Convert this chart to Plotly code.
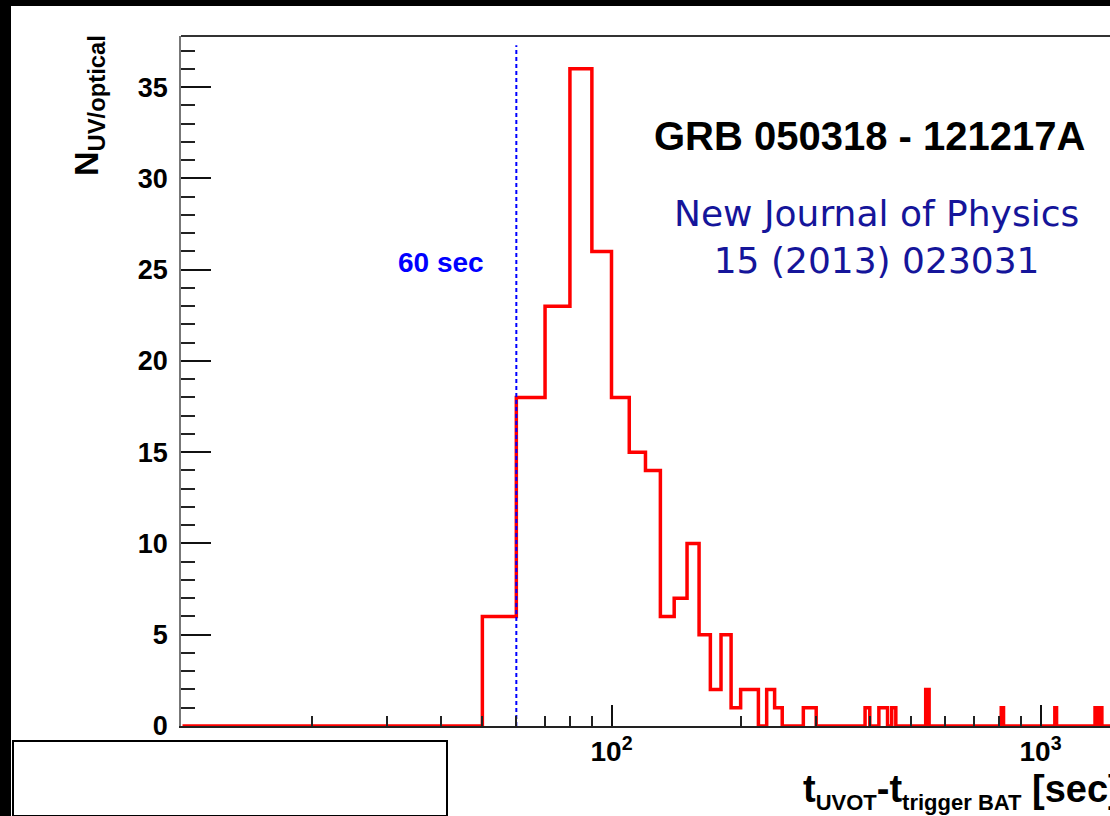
import numpy as np
import plotly.graph_objects as go

# ---- data: UV/optical detection delays, 10 s bins (left edge -> entries) ----
BIN_WIDTH = 10
HIST_START, HIST_STOP = 10, 1500
bin_start = [50, 60, 70, 80, 90, 100, 110, 120, 130, 140, 150, 160, 170, 180,
             190, 200, 210, 230, 240, 280, 290, 390, 420, 430, 450, 540, 810,
             1080, 1340, 1360, 1380]
counts = [6, 18, 23, 36, 26, 18, 15, 14, 6, 7, 10, 5, 2, 5,
          1, 2, 2, 2, 1, 1, 1, 1, 1, 1, 1, 2, 1,
          1, 1, 1, 1]
cut_time = 60            # vertical marker [sec]
cut_label = "60 sec"
x_tick_vals = [100, 1000]
x_tick_text = ["10<sup>2</sup>", "10<sup>3</sup>"]
y_tick_vals = [0, 5, 10, 15, 20, 25, 30, 35]

# full histogram contents
edges = np.arange(HIST_START, HIST_STOP + BIN_WIDTH, BIN_WIDTH)
content = np.zeros(len(edges) - 1)
for s, c in zip(bin_start, counts):
    content[(s - HIST_START) // BIN_WIDTH] = c
step_y = np.append(content, content[-1])

# ---- page geometry (pixels) ----
W, H = 1110, 816
L, R, T, B = 181, 0, 36, 90
PW, PH = W - L - R, H - T - B


def px_x(px):
    return (px - L) / PW


def px_y(py):
    return (H - B - py) / PH


FONT = "Liberation Sans, Arial, Helvetica, sans-serif"

fig = go.Figure()

fig.add_trace(go.Scatter(
    x=edges, y=step_y, mode="lines", line_shape="hv",
    line=dict(color="#ff0000", width=3.5), hoverinfo="skip", showlegend=False))

fig.add_trace(go.Scatter(
    x=[cut_time, cut_time], y=[0, 37.3], mode="lines",
    line=dict(color="#0000ff", width=2, dash="4px,3px"),
    hoverinfo="skip", showlegend=False))

fig.update_layout(
    width=W, height=H,
    margin=dict(l=L, r=R, t=T, b=B, pad=0),
    paper_bgcolor="white", plot_bgcolor="white",
    font=dict(family=FONT, color="black"),
    showlegend=False,
)

fig.update_xaxes(
    type="log", range=[0.9965, 3.162],
    showgrid=False, zeroline=False,
    showline=True, linecolor="#222", linewidth=1.5, mirror=False,
    tickmode="array", tickvals=x_tick_vals, ticktext=x_tick_text,
    ticks="inside", ticklen=21, tickwidth=1.5, tickcolor="#111",
    tickfont=dict(family=FONT, size=28, weight="bold", color="black"),
    minor=dict(ticks="inside", ticklen=10, tickwidth=1.5, tickcolor="#222",
               tickmode="array",
               tickvals=[m * 10 ** d for d in (1, 2, 3) for m in range(2, 10)]),
)

fig.update_yaxes(
    range=[0, 37.8],
    showgrid=False, zeroline=False,
    showline=True, linecolor="#777", linewidth=1.5, mirror=False,
    tickmode="array", tickvals=y_tick_vals,
    ticks="inside", ticklen=30, tickwidth=1.5, tickcolor="#111",
    ticklabelstandoff=6,
    tickfont=dict(family=FONT, size=27, weight="bold", color="black"),
    minor=dict(ticks="inside", ticklen=14, tickwidth=1.5, tickcolor="#222",
               dtick=1),
)

shapes = [
    # top frame line
    dict(type="line", xref="paper", yref="paper", x0=0, x1=1, y0=1, y1=1,
         line=dict(color="#333", width=2), layer="above"),
    # dark border strips
    dict(type="rect", xref="paper", yref="paper",
         x0=px_x(0), x1=px_x(11), y0=px_y(H), y1=px_y(0),
         fillcolor="black", line=dict(width=0), layer="above"),
    dict(type="rect", xref="paper", yref="paper",
         x0=px_x(0), x1=px_x(W), y0=px_y(6), y1=px_y(0),
         fillcolor="black", line=dict(width=0), layer="above"),
    # empty white box in the lower-left corner
    dict(type="rect", xref="paper", yref="paper",
         x0=px_x(13), x1=px_x(447), y0=px_y(816), y1=px_y(741),
         fillcolor="white", line=dict(color="black", width=2), layer="above"),
]
fig.update_layout(shapes=shapes)

annotations = [
    dict(text="<b>GRB 050318 - 121217A</b>", x=px_x(869), y=px_y(136),
         xanchor="center", yanchor="middle",
         font=dict(family=FONT, size=40, color="black")),
    dict(text="New Journal of Physics<br>15 (2013) 023031",
         x=px_x(876), y=px_y(237), xanchor="center", yanchor="middle",
         align="center",
         font=dict(family="DejaVu Sans, Verdana, sans-serif", size=36,
                   color="#15159a")),
    dict(text="<b>" + cut_label + "</b>", x=px_x(441), y=px_y(262.5),
         xanchor="center", yanchor="middle",
         font=dict(family=FONT, size=28, color="#0000ff")),
    dict(text="<b>N<sub>UV/optical</sub></b>", x=px_x(88), y=px_y(106),
         xanchor="center", yanchor="middle", textangle=-90,
         font=dict(family=FONT, size=34, color="black")),
    dict(text="<b>t<sub><span style='font-size:22px'>UVOT</span></sub>"
              "-t<sub><span style='font-size:22px'>trigger BAT</span></sub>"
              " [sec]</b>",
         x=px_x(801), y=px_y(792), xanchor="left", yanchor="middle",
         font=dict(family=FONT, size=38, color="black")),
]
for a in annotations:
    a.update(xref="paper", yref="paper", showarrow=False)
fig.update_layout(annotations=annotations)

fig.write_html("out.html")
